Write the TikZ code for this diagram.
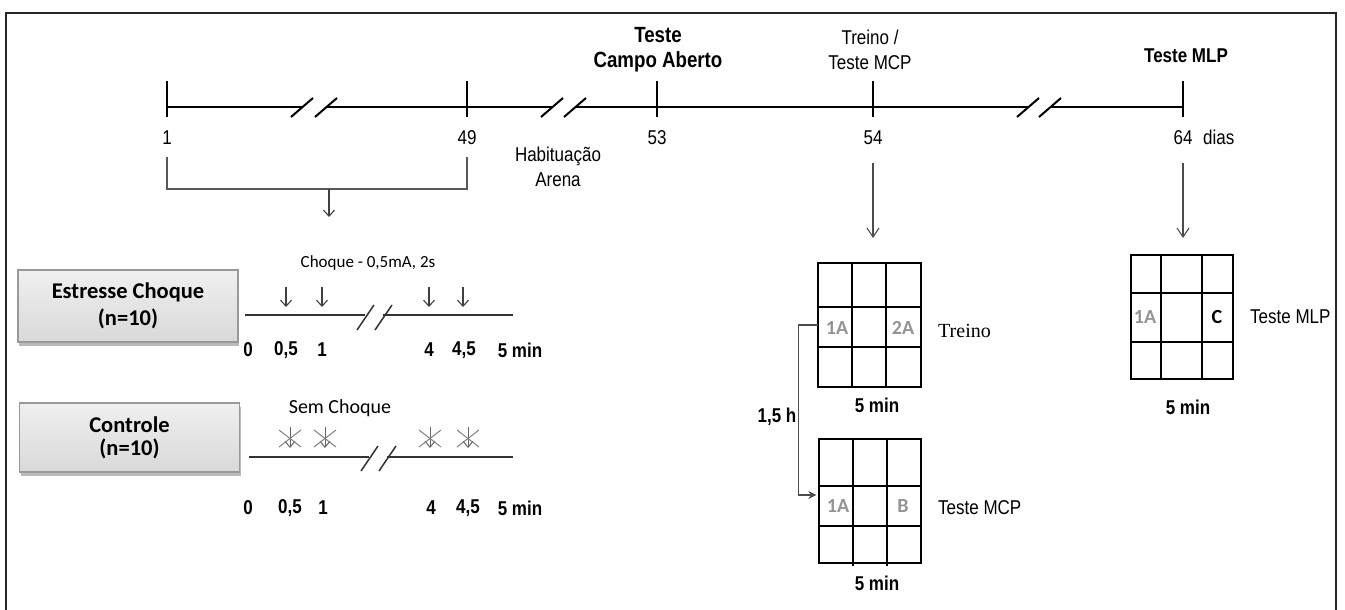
\documentclass[tikz,border=0pt]{standalone}
\usepackage{fontspec}
\setmainfont{Liberation Sans}
\newfontfamily\narfont[FakeStretch=0.85]{Liberation Sans}
\newfontfamily\calfont{Carlito}
\newfontfamily\tmsfont{Liberation Serif}
\usetikzlibrary{arrows.meta,shadows,calc}
\begin{document}
\begin{tikzpicture}[x=1pt,y=-1pt,
  num/.style={font=\narfont\fontsize{20}{24}\selectfont, inner sep=0pt},
  bnum/.style={font=\narfont\bfseries\fontsize{20}{24}\selectfont, inner sep=0pt},
  toplbl/.style={font=\narfont\bfseries\fontsize{22}{25}\selectfont, inner sep=0pt, align=center},
  toplblr/.style={font=\narfont\fontsize{20}{25}\selectfont, inner sep=0pt, align=center},
  grouplbl/.style={draw=black!40, line width=1.2pt, top color=black!6, bottom color=black!15,
     minimum width=220pt, align=center, inner sep=0pt,
     drop shadow={shadow xshift=1pt, shadow yshift=-4pt, fill=black!60, opacity=0.45}},
  calib/.style={font=\calfont\fontsize{17}{20}\selectfont, inner sep=0pt},
  cell/.style={font=\calfont\bfseries\fontsize{20}{22}\selectfont, inner sep=0pt, text=black!42},
  gridbox/.style={inner sep=0pt, minimum width=103pt, minimum height=124pt},
  axis/.style={line width=2.4pt, black},
  tickline/.style={line width=2pt, black},
  brk/.style={line width=2pt, black},
  thinline/.style={line width=1.5pt, black!80},
  dn/.style={line width=1.1pt, black!75, -{Straight Barb[length=6pt,width=11pt]}},
  longdn/.style={line width=1.1pt, black!70, -{Straight Barb[length=9pt,width=12pt]}},
  nodn/.style={line width=1pt, black!60, -{Straight Barb[length=6pt,width=10pt]}},
  cross/.style={line width=1pt, black!50},
  gridline/.style={line width=1.8pt, black},
]
\useasboundingbox (0,0) rectangle (1345,610);
\fill[white] (0,0) rectangle (1345,610);

% frame
\draw[line width=2.5pt, black!85] (6,614) -- (6,13) -- (1336,13) -- (1336,614);

% ---------------- top timeline ----------------
\foreach \x in {167,467,657,873,1183} \draw[tickline] (\x,81) -- (\x,117);
\draw[axis] (167,107) -- (302,107);
\draw[axis] (326,107) -- (552,107);
\draw[axis] (575,107) -- (1028,107);
\draw[axis] (1050,107) -- (1183,107);
\foreach \c in {302,326,552,575,1028,1050} \draw[brk] (\c-11,117) -- (\c+11,98);

\node[num] (l1) at (167,138) {1};
\node[num] (l49) at (467,138) {49};
\node[num] (l53) at (657,138) {53};
\node[num] (l54) at (873,138) {54};
\node[num] (l64) at (1183,138) {64};
\node[num, anchor=west] (ldias) at (1203,137) {dias};
\node[toplblr, font=\narfont\fontsize{20}{25}\selectfont] (hab) at (558,167) {Habituação\\Arena};

\node[toplbl] (tca) at (658,50) {Teste\\Campo Aberto};
\node[toplblr] (ttm) at (870,50) {Treino /\\Teste MCP};
\node[bnum] (tmlp) at (1186,56) {Teste MLP};

% bracket 1-49
\draw[thinline, black!65] (167,157) -- (167,189) -- (467,189) -- (467,157);
\coordinate (brm) at (329,189);
\coordinate (brt) at (329,217);
\draw[dn] (brm) -- (brt);

% arrows from 54 and 64
\coordinate (a54s) at (873,163);
\coordinate (a54e) at (873,238);
\coordinate (a64s) at (1183,163);
\coordinate (a64e) at (1183,238);
\draw[longdn] (a54s) -- (a54e);
\draw[longdn] (a64s) -- (a64e);

% ---------------- groups ----------------
\node[grouplbl, minimum height=72pt, font=\calfont\bfseries\fontsize{22.5}{27}\selectfont] (est) at (128,306) {Estresse Choque\\(n=10)};
\node[grouplbl, minimum height=69pt, font=\calfont\bfseries\fontsize{22.5}{23}\selectfont] (ctl) at (129.5,437.5) {Controle\\(n=10)};

% Estresse timeline
\node[calib] (chq) at (368,263) {Choque - 0,5mA, 2s};
\foreach \x in {286,322,429,463} \draw[dn] (\x,287) -- (\x,307);
\draw[thinline] (245,315) -- (365,315);
\draw[thinline] (383,315) -- (513,315);
\draw[thinline] (357,330) -- (374,305);
\draw[thinline] (375,330) -- (392,305);
\node[bnum] (e0) at (248,350) {0};
\node[bnum] (e05) at (286,350) {0,5};
\node[bnum] (e1) at (322,350) {1};
\node[bnum] (e4) at (429,350) {4};
\node[bnum] (e45) at (464,350) {4,5};
\node[bnum] (e5) at (520,350) {5 min};

% Controle timeline
\node[calib, font=\calfont\fontsize{20}{22}\selectfont] (sem) at (340,408) {Sem Choque};
\foreach \x in {290,325,430,468} {
  \draw[nodn] (\x,427) -- (\x,448);
  \draw[cross] (\x-11,430) -- (\x+11,447);
  \draw[cross] (\x-11,447) -- (\x+11,430);
}
\draw[thinline] (249,457) -- (369,457);
\draw[thinline] (387,457) -- (513,457);
\draw[thinline] (361,471) -- (378,446);
\draw[thinline] (379,471) -- (396,446);
\node[bnum] (c0) at (248,508) {0};
\node[bnum] (c05) at (290,508) {0,5};
\node[bnum] (c1) at (323,508) {1};
\node[bnum] (c4) at (431,508) {4};
\node[bnum] (c45) at (468,508) {4,5};
\node[bnum] (c5) at (520,508) {5 min};

% ---------------- Treino grid ----------------
\node[gridbox] (gtr) at (869.5,325) {};
\draw[gridline] (818,263) rectangle (921,387);
\draw[gridline] (852,263) -- (852,387) (886,263) -- (886,387)
                (818,307) -- (921,307) (818,347) -- (921,347);
\node[cell] (tr1a) at (837,328) {1A};
\node[cell] (tr2a) at (903,328) {2A};
\node[font=\tmsfont\fontsize{20}{24}\selectfont, inner sep=0pt, anchor=west] (treino) at (938,331) {Treino};
\node[bnum] (tr5) at (877,405) {5 min};

% ---------------- Teste MCP grid ----------------
\node[gridbox] (gmcp) at (870,501) {};
\draw[gridline] (819,439) rectangle (921,563);
\draw[gridline] (853,439) -- (853,566) (887,439) -- (887,566)
                (819,486) -- (921,486) (819,526) -- (921,526);
\node[cell] (mc1a) at (838,506) {1A};
\node[cell] (mcb) at (903,506) {B};
\node[num, anchor=west] (tmcp) at (938,508) {Teste MCP};
\node[bnum] (mc5) at (877,583) {5 min};

% connector 1,5 h
\coordinate (mcpin) at ($(gmcp.west)+(-2,-6)$);
\draw[line width=1.3pt, black!70, -{Stealth[length=8pt,width=8pt]}] (gtr.west) -- ++(-19,0) |- (mcpin);
\node[bnum] (h15) at (777,417) {1,5 h};

% ---------------- Teste MLP grid ----------------
\node[gridbox] (gmlp) at (1182,317) {};
\draw[gridline] (1131,255) rectangle (1233,379);
\draw[gridline] (1161,255) -- (1161,379) (1202,255) -- (1202,379)
                (1131,293) -- (1233,293) (1131,342) -- (1233,342);
\node[cell] (ml1a) at (1145,317) {1A};
\node[cell, text=black] (mlc) at (1217,317) {C};
\node[num, anchor=west] (tmlp2) at (1250,317) {Teste MLP};
\node[bnum] (ml5) at (1188,407) {5 min};
\end{tikzpicture}
\end{document}
